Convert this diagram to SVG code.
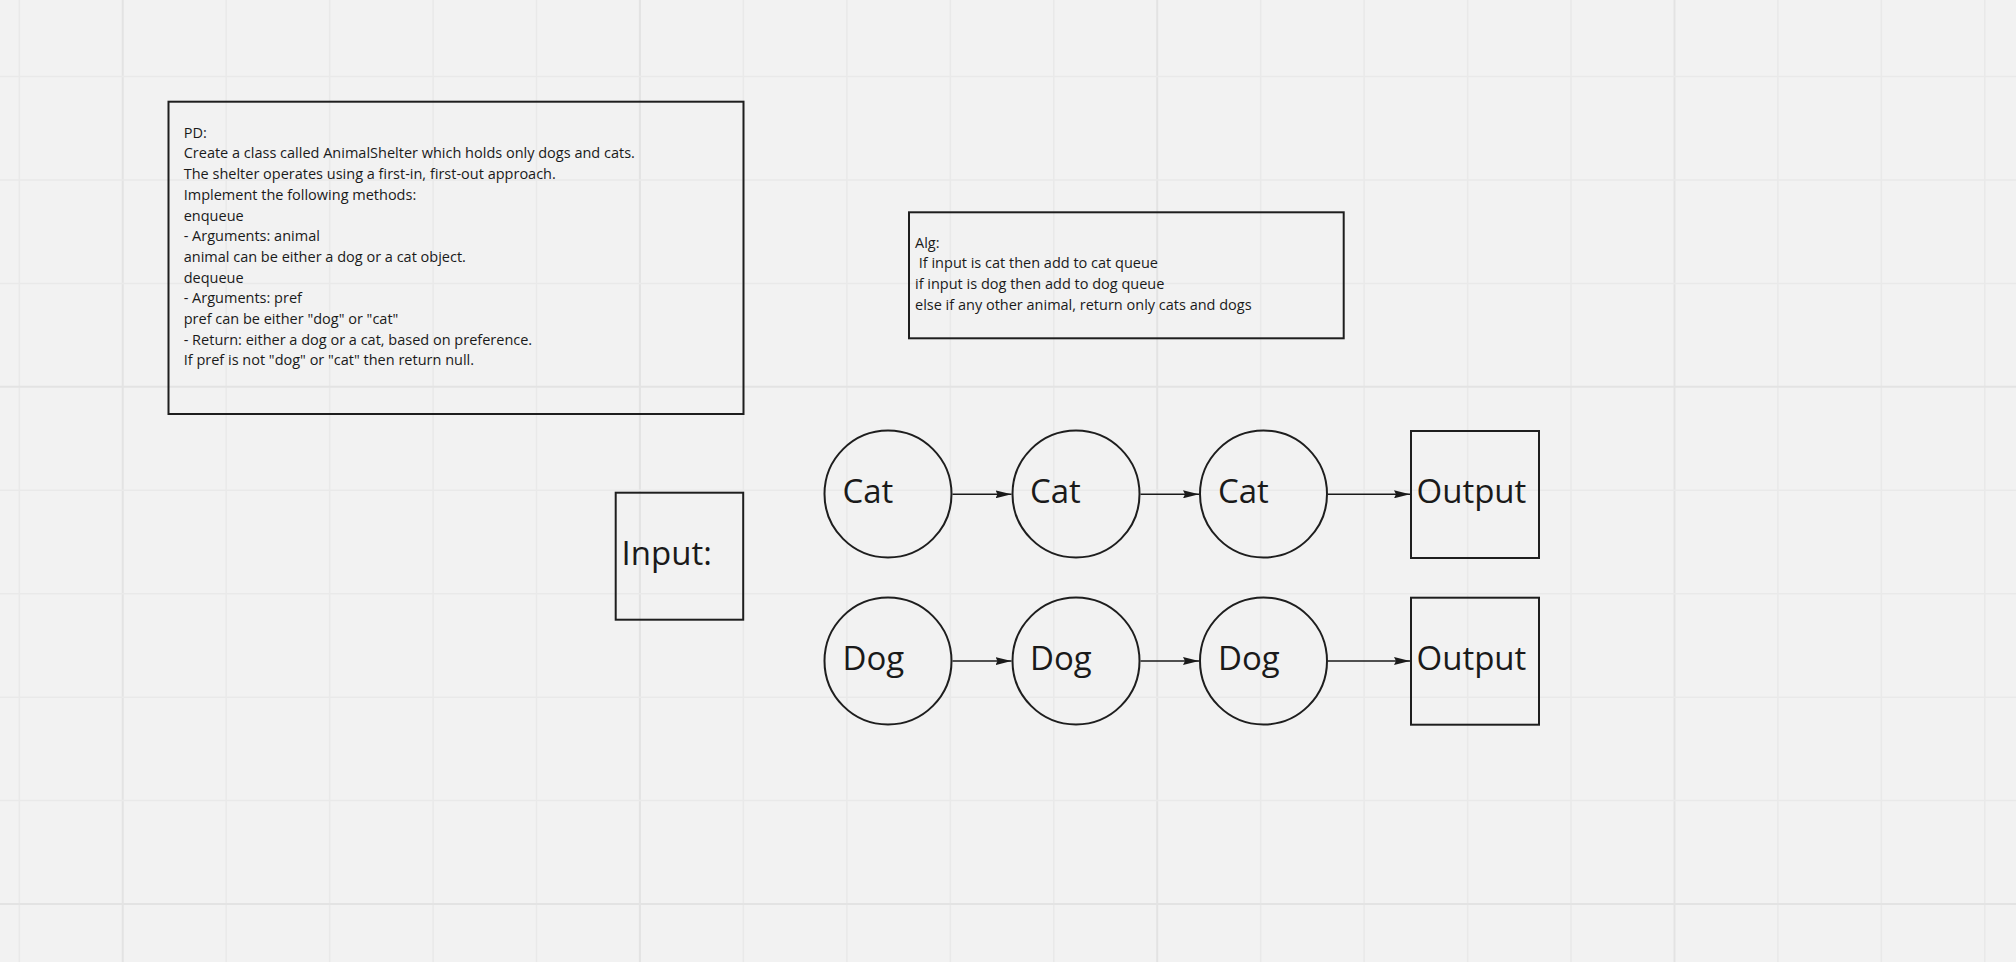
<svg xmlns="http://www.w3.org/2000/svg" width="2016" height="962" viewBox="0 0 2016 962">
<defs>
<style>
.minor{stroke:#e9e9e9;stroke-width:1.5;fill:none}
.major{stroke:#e3e3e3;stroke-width:2;fill:none}
.box{fill:none;stroke:#1e1e1e;stroke-width:2}
.node{fill:none;stroke:#1e1e1e;stroke-width:2}
.small{font-family:"Open Sans","Noto Sans",sans-serif;font-size:14.5px;fill:#1a1a1a}
.big{font-family:"Open Sans","Noto Sans",sans-serif;font-size:33px;fill:#1a1a1a}
.edge{stroke:#1a1a1a;stroke-width:1.4;fill:none;marker-end:url(#arrow)}
</style>
<marker id="arrow" viewBox="0 0 16 8" refX="16" refY="4" markerWidth="16" markerHeight="8" markerUnits="userSpaceOnUse" orient="auto">
<path d="M0,0 L16,4 L0,8 L2,4 Z" fill="#1a1a1a"/>
</marker>
</defs>
<rect width="2016" height="962" fill="#f2f2f2"/>
<g id="grid">
<path class="minor" d="M19.3,0V962 M226.2,0V962 M329.6,0V962 M433.1,0V962 M536.5,0V962 M743.4,0V962 M846.9,0V962 M950.3,0V962 M1053.8,0V962 M1260.7,0V962 M1364.1,0V962 M1467.6,0V962 M1571,0V962 M1777.9,0V962 M1881.4,0V962 M1984.8,0V962"/>
<path class="major" d="M122.7,0V962 M639.9,0V962 M1157.2,0V962 M1674.5,0V962"/>
<path class="minor" d="M0,76.5H2016 M0,179.9H2016 M0,283.4H2016 M0,490.3H2016 M0,593.7H2016 M0,697.2H2016 M0,800.6H2016"/>
<path class="major" d="M0,386.8H2016 M0,904.1H2016"/>
</g>
<g id="pd">
<rect class="box" x="168.5" y="101.7" width="575" height="312.3"/>
<text class="small" x="183.7" y="137.7">
<tspan x="183.7" y="137.7">PD:</tspan>
<tspan x="183.7" y="158.4">Create a class called AnimalShelter which holds only dogs and cats.</tspan>
<tspan x="183.7" y="179.1">The shelter operates using a first-in, first-out approach.</tspan>
<tspan x="183.7" y="199.8">Implement the following methods:</tspan>
<tspan x="183.7" y="220.5">enqueue</tspan>
<tspan x="183.7" y="241.2">- Arguments: animal</tspan>
<tspan x="183.7" y="261.9">animal can be either a dog or a cat object.</tspan>
<tspan x="183.7" y="282.6">dequeue</tspan>
<tspan x="183.7" y="303.3">- Arguments: pref</tspan>
<tspan x="183.7" y="324.0">pref can be either "dog" or "cat"</tspan>
<tspan x="183.7" y="344.7">- Return: either a dog or a cat, based on preference.</tspan>
<tspan x="183.7" y="365.4">If pref is not "dog" or "cat" then return null.</tspan>
</text>
</g>
<g id="alg">
<rect class="box" x="909" y="212.3" width="434.7" height="126"/>
<text class="small" xml:space="preserve"><tspan x="915" y="247.7">Alg:</tspan><tspan x="915" y="268.4"> If input is cat then add to cat queue</tspan><tspan x="915" y="289.1">if input is dog then add to dog queue</tspan><tspan x="915" y="309.8">else if any other animal, return only cats and dogs</tspan></text>
</g>
<g id="input">
<rect class="box" x="615.7" y="492.7" width="127.5" height="127"/>
<text class="big" x="621.5" y="565">Input:</text>
</g>
<g id="cat1">
<circle class="node" cx="888" cy="494" r="63.5"/>
<text class="big" x="842.5" y="503">Cat</text>
</g>
<g id="cat2">
<circle class="node" cx="1076" cy="494" r="63.5"/>
<text class="big" x="1030" y="503">Cat</text>
</g>
<g id="cat3">
<circle class="node" cx="1263.5" cy="494" r="63.5"/>
<text class="big" x="1218" y="503">Cat</text>
</g>
<g id="catOutput">
<rect class="box" x="1411" y="431" width="128" height="127"/>
<text class="big" x="1416.5" y="503">Output</text>
</g>
<g id="dog1">
<circle class="node" cx="888" cy="661" r="63.5"/>
<text class="big" x="842.5" y="669.5">Dog</text>
</g>
<g id="dog2">
<circle class="node" cx="1076" cy="661" r="63.5"/>
<text class="big" x="1030" y="669.5">Dog</text>
</g>
<g id="dog3">
<circle class="node" cx="1263.5" cy="661" r="63.5"/>
<text class="big" x="1218" y="669.5">Dog</text>
</g>
<g id="dogOutput">
<rect class="box" x="1411" y="597.7" width="128" height="127"/>
<text class="big" x="1416.5" y="669.5">Output</text>
</g>
<g id="connectors">
<path class="edge" d="M952.5,494.3H1011.5"/>
<path class="edge" d="M1140.5,494.3H1199"/>
<path class="edge" d="M1328,494.3H1410"/>
<path class="edge" d="M952.5,661H1011.5"/>
<path class="edge" d="M1140.5,661H1199"/>
<path class="edge" d="M1328,661H1410"/>
</g>
</svg>
